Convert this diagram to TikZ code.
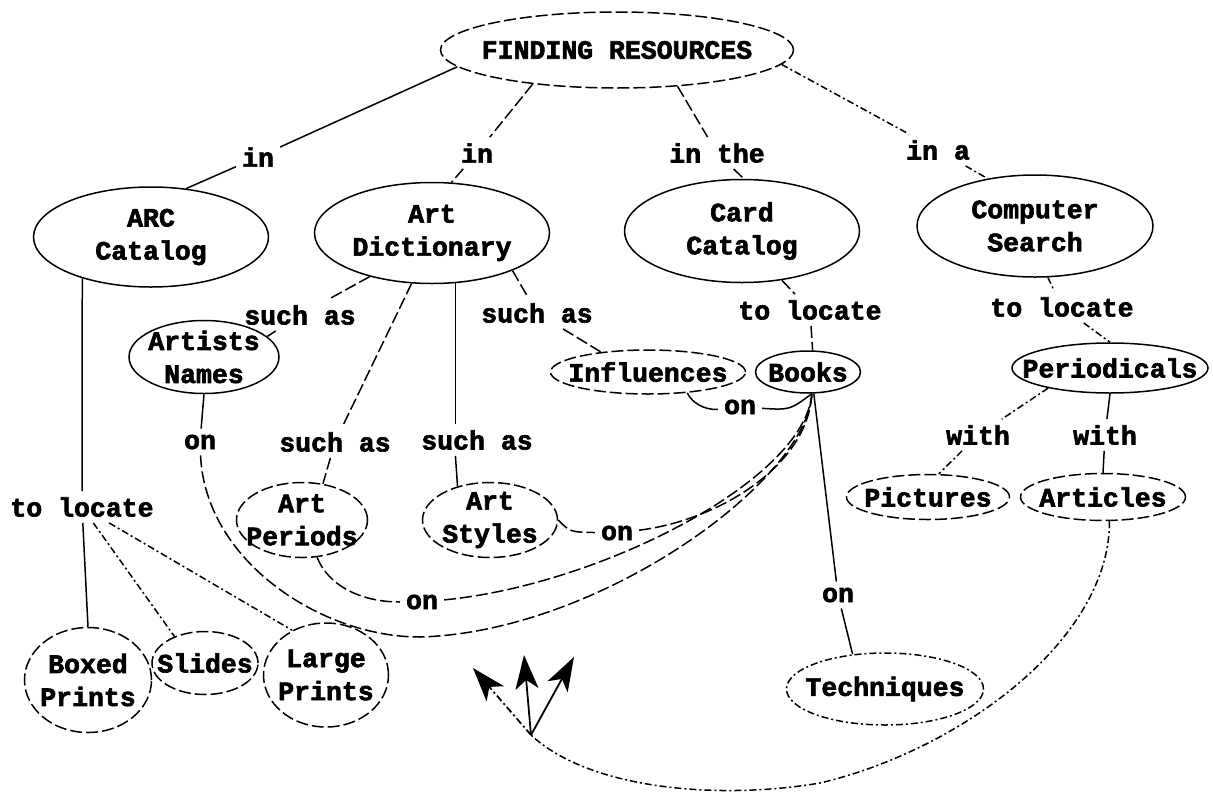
\documentclass[tikz,border=0pt]{standalone}
\usepackage{fontspec}
\newfontfamily\cmapfont[BoldFeatures={FakeBold=2.4}]{Liberation Mono}
\newcommand\mapfont{\cmapfont\bfseries\fontsize{26.5}{33}\selectfont}
\usetikzlibrary{shapes.geometric,arrows.meta}
\begin{document}
\begin{tikzpicture}[x=1pt,y=-1pt,
  every node/.style={font=\mapfont},
  concept/.style={ellipse, draw, line width=1.5pt, inner sep=0pt},
  ctext/.style={align=center, inner sep=0pt, font=\mapfont},
  link/.style={inner sep=6pt},
  conn/.style={line width=1.5pt},
  brk/.style={dash pattern=on 12pt off 4pt},
  brkdot/.style={dash pattern=on 7pt off 3pt on 2pt off 3pt},
  arr/.style={line width=1.8pt, -{Stealth[length=34pt,width=23pt,inset=9pt]}},
]
\fill[white] (0,0) rectangle (1213,793);
\useasboundingbox (0,0) rectangle (1213,793);

% concepts
\node[concept, brk, minimum width=353pt, minimum height=76pt,
  label={[ctext]center:{FINDING RESOURCES}}] (find) at (617,50) {};
\node[concept, minimum width=235pt, minimum height=100pt,
  label={[ctext]center:{ARC\\Catalog}}] (arc) at (151,237) {};
\node[concept, minimum width=235pt, minimum height=101pt,
  label={[ctext]center:{Art\\Dictionary}}] (dict) at (432,233) {};
\node[concept, minimum width=235pt, minimum height=103pt,
  label={[ctext]center:{Card\\Catalog}}] (card) at (742,231) {};
\node[concept, minimum width=236pt, minimum height=102pt,
  label={[ctext]center:{Computer\\Search}}] (comp) at (1035,226) {};
\node[concept, minimum width=150pt, minimum height=73pt,
  label={[ctext]center:{Artists\\Names}}] (artists) at (204,357) {};
\node[concept, brk, minimum width=195pt, minimum height=44pt,
  label={[ctext]center:{Influences}}] (infl) at (648,372) {};
\node[concept, minimum width=105pt, minimum height=42pt,
  label={[ctext]center:{Books}}] (books) at (808,372) {};
\node[concept, minimum width=196pt, minimum height=50pt,
  label={[ctext]center:{Periodicals}}] (per) at (1110,368) {};
\node[concept, brk, minimum width=131pt, minimum height=75pt,
  label={[ctext]center:{Art\\Periods}}] (periods) at (302,520) {};
\node[concept, brk, minimum width=135pt, minimum height=75pt,
  label={[ctext]center:{Art\\Styles}}] (styles) at (490,520) {};
\node[concept, brk, minimum width=163pt, minimum height=45pt,
  label={[ctext]center:{Pictures}}] (pics) at (928,497) {};
\node[concept, brk, minimum width=165pt, minimum height=47pt,
  label={[ctext]center:{Articles}}] (arts) at (1103,497) {};
\node[concept, brkdot, minimum width=197pt, minimum height=72pt,
  label={[ctext]center:{Techniques}}] (tech) at (885,689) {};
\node[concept, brk, minimum width=127pt, minimum height=105pt,
  label={[ctext]center:{Boxed\\Prints}}] (boxed) at (88,680) {};
\node[concept, brk, minimum width=106pt, minimum height=63pt,
  label={[ctext]center:{Slides}}] (slides) at (205,663) {};
\node[concept, brk, minimum width=125pt, minimum height=104pt,
  label={[ctext]center:{Large\\Prints}}] (large) at (326,675) {};

% linking words
\node[link] (in1) at (258,157) {in};
\node[link] (in2) at (477,153) {in};
\node[link] (in3) at (717,153) {in the};
\node[link] (in4) at (938,150) {in a};
\node[link] (sa1) at (300,315) {such as};
\node[link] (sa2) at (335,442) {such as};
\node[link] (sa3) at (477,440) {such as};
\node[link] (sa4) at (537,313) {such as};
\node[link] (locC) at (810,310) {to locate};
\node[link] (locP) at (1062,307) {to locate};
\node[link] (locA) at (82,507) {to locate};
\node[link] (wP) at (978,435) {with};
\node[link] (wA) at (1105,435) {with};
\node[link] (onA) at (200,442) {on};
\node[link] (onP) at (422,602) {on};
\node[link] (onS) at (617,533) {on};
\node[link] (onI) at (740,407) {on};
\node[link] (onT) at (838,595) {on};

% top level
\draw[conn] (find.186) -- (in1);
\draw[conn] (in1) -- (arc.54);
\draw[conn,brk] (find.202) -- (in2);
\draw[conn,brk] (in2) -- (dict.69);
\draw[conn,brk] (find.-31) -- (in3);
\draw[conn,brk] (in3) -- (card.88);
\draw[conn,brkdot] (find.-5) -- (in4);
\draw[conn,brkdot] (in4) -- (comp.135);

% dictionary branches
\draw[conn,brk] (dict.215) -- (sa1);
\draw[conn,brk] (sa1) -- (artists.18);
\draw[conn,brk] (dict.-112) -- (sa2);
\draw[conn,brk] (sa2) -- (periods.60);
\draw[conn] (dict.-65) -- (dict.-65 |- sa3.north);
\draw[conn] (sa3.south -| dict.-65) -- (styles.134);
\draw[conn,brk] (dict.-25) -- (sa4);
\draw[conn,brk] (sa4) -- (infl.157);

% catalog and computer branches
\draw[conn,brk] (card.-51) -- (locC);
\draw[conn,brk] (locC) -- (books.78);
\draw[conn,brkdot] (comp.-76) -- (locP);
\draw[conn,brkdot] (locP) -- (per.north);
\draw[conn,brkdot] (per.198) -- (wP);
\draw[conn,brkdot] (wP) -- (pics.65);
\draw[conn] (per.south) -- (wA);
\draw[conn] (wA) -- (arts.north);

% ARC catalog branches
\draw[conn] (arc.211) -- (locA);
\draw[conn] (locA) -- (boxed.north);
\draw[conn,brkdot] (locA) -- (slides.139);
\draw[conn,brkdot] (locA) -- (large.127);

% books on ...
\draw[conn] (artists.south) -- (onA);
\draw[conn,brk] (onA) .. controls (205,560) and (320,637) .. (420,637)
  .. controls (600,632) and (808,480) .. (books.-80);
\draw[conn,brk] (periods.-68) .. controls (328,585) and (360,602) .. (onP);
\draw[conn,brk] (onP) .. controls (600,585) and (805,480) .. (books.-80);
\draw[conn,brk] (styles.east) .. controls (570,532) .. (onS);
\draw[conn,brk] (onS) .. controls (720,520) and (808,465) .. (books.-80);
\draw[conn] (infl.-28) .. controls (695,408) and (712,410) .. (onI);
\draw[conn] (onI) .. controls (790,410) .. (books.-80);
\draw[conn] (books.-75) -- (onT);
\draw[conn] (onT) -- (tech.133);

% articles loop and arrows
\coordinate (hub) at (531,735);
\coordinate (tipL) at (473,668);
\coordinate (tipU) at (524,655);
\coordinate (tipR) at (574,657);
\draw[conn,brkdot] (arts.-75) .. controls (1110,640) and (960,750) .. (820,783)
  .. controls (720,800) and (590,790) .. (hub);
\draw[arr,brkdot] (hub) -- (tipL);
\draw[arr] (hub) -- (tipU);
\draw[arr] (hub) -- (tipR);
\end{tikzpicture}
\end{document}
